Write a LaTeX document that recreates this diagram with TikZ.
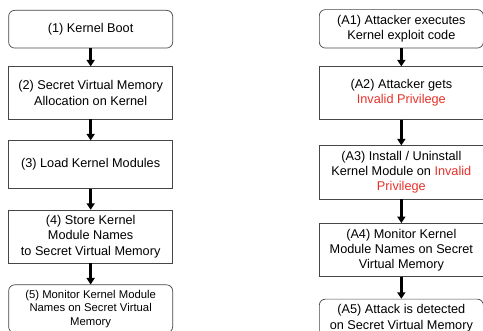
\documentclass[tikz,border=0pt]{standalone}
\usepackage{fontspec}
\setmainfont{Liberation Sans}
\usetikzlibrary{arrows.meta,positioning}
\definecolor{FrameGray}{RGB}{70,70,70}
\definecolor{AlertRed}{RGB}{232,50,42}
\newcommand{\badPriv}[1]{\textcolor{AlertRed}{#1}}

\begin{document}
\begin{tikzpicture}[x=1pt,y=-1pt,
    stepbox/.style={draw=FrameGray,line width=0.7pt,fill=white,minimum width=164pt,align=center,inner sep=2pt,font=\fontsize{12.7}{15.3}\selectfont},
    endbox/.style={stepbox,rounded corners=6pt},
    flow/.style={-{Triangle[length=6.5pt,width=8pt]},line width=2.4pt}]
    \useasboundingbox (0,0) rectangle (483,331);
    % normal kernel flow
    \node[endbox,anchor=north west,minimum height=37.7pt] (k1) at (8.3,10) {(1) Kernel Boot};
    \node[stepbox,below=18pt of k1,minimum height=52.3pt] (k2) {(2) Secret Virtual Memory\\Allocation on Kernel};
    \node[stepbox,below=21pt of k2,minimum height=47.7pt] (k3) {(3) Load Kernel Modules};
    \node[stepbox,below=21pt of k3,minimum height=53pt] (k4) {(4) Store Kernel\\Module Names\\to Secret Virtual Memory};
    \node[endbox,below=21pt of k4,minimum height=48pt,font=\fontsize{11.3}{13.4}\selectfont] (k5) {(5) Monitor Kernel Module\\Names on Secret Virtual\\Memory};
    % attack flow
    \node[endbox,anchor=north west,minimum height=38.4pt] (a1) at (319,9.3) {(A1) Attacker executes\\Kernel exploit code};
    \node[stepbox,below=18pt of a1,minimum height=52.6pt] (a2) {(A2) Attacker gets\\\badPriv{Invalid Privilege}};
    \node[stepbox,below=25.7pt of a2,minimum height=53.3pt] (a3) {(A3) Install / Uninstall\\Kernel Module on \badPriv{Invalid}\\\badPriv{Privilege}};
    \node[stepbox,below=23.7pt of a3,minimum height=53.3pt] (a4) {(A4) Monitor Kernel\\Module Names on Secret\\Virtual Memory};
    \node[endbox,below=21.7pt of a4,minimum height=38pt] (a5) {(A5) Attack is detected\\on Secret Virtual Memory};
    \draw[flow] (k1) -- (k2);
    \draw[flow] (k2) -- (k3);
    \draw[flow] (k3) -- (k4);
    \draw[flow] (k4) -- (k5);
    \draw[flow] (a1) -- (a2);
    \draw[flow] (a2) -- (a3);
    \draw[flow] (a3) -- (a4);
    \draw[flow] (a4) -- (a5);
\end{tikzpicture}
\end{document}
